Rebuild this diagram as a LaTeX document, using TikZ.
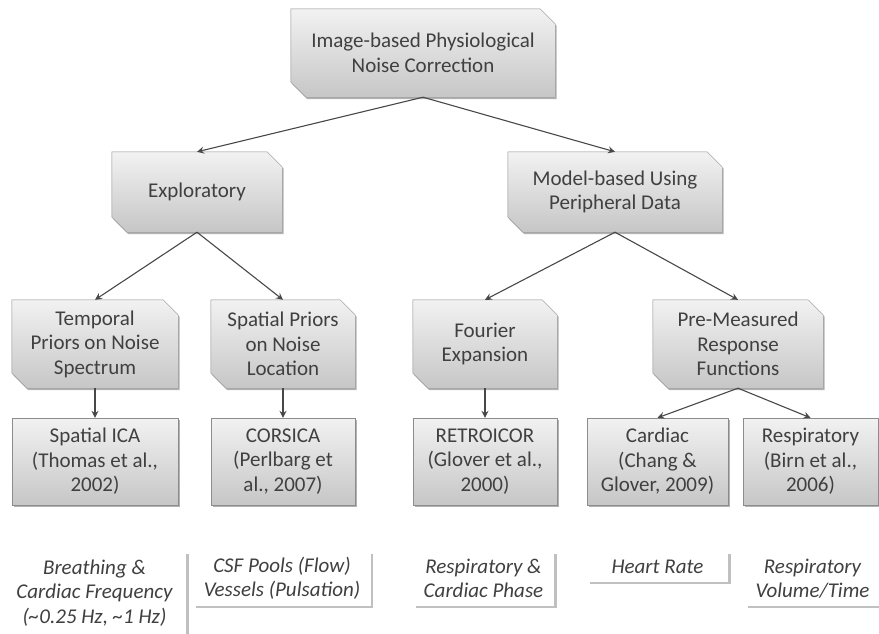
\documentclass[tikz,border=0pt]{standalone}
\usepackage{fontspec}
\setmainfont{Carlito}
\usetikzlibrary{shadows,arrows.meta,backgrounds}
\definecolor{PNText}{RGB}{64,64,64}
\definecolor{PNEdge}{RGB}{140,140,140}
\definecolor{PNLight}{RGB}{242,242,242}
\definecolor{PNDark}{RGB}{198,198,198}
\definecolor{PNArrow}{RGB}{72,72,72}

\begin{document}
\begin{tikzpicture}[x=1pt,y=-1pt,>={Stealth[length=7pt,width=7pt,inset=2.5pt]},
    every node/.style={text=PNText,font=\fontsize{21}{24.5}\selectfont,align=center,inner sep=0pt},
    graybox/.style={draw=PNEdge,top color=PNLight,bottom color=PNDark,
      drop shadow={shadow xshift=1.5pt,shadow yshift=-2pt,fill=black!60,opacity=.5}},
    snipbox/.style={rectangle},
    notebox/.style={fill=white,font=\fontsize{21}{24.5}\selectfont\itshape,
      drop shadow={shadow xshift=2.5pt,shadow yshift=-2.5pt,fill=black!55,opacity=.45}},
    arr/.style={->,PNArrow,line width=1.1pt}]
  \useasboundingbox (0,0) rectangle (879,633);
  % first two levels
  \node[snipbox,minimum width=264,minimum height=88] (top) at (423,53) {Image-based Physiological\\Noise Correction};
  \node[snipbox,minimum width=170,minimum height=80] (expl) at (197,192) {Exploratory};
  \node[snipbox,minimum width=214,minimum height=80] (model) at (615,192) {Model-based Using\\Peripheral Data};
  % priors / expansions
  \node[snipbox,minimum width=166,minimum height=88] (temp) at (95,344) {Temporal\\Priors on Noise\\Spectrum};
  \node[snipbox,minimum width=144,minimum height=88] (spat) at (283,344) {Spatial Priors\\on Noise\\Location};
  \node[snipbox,minimum width=144,minimum height=88] (four) at (485,344) {Fourier\\Expansion};
  \node[snipbox,minimum width=170,minimum height=88] (resp) at (738,344) {Pre-Measured\\Response\\Functions};
  % snipped corners behind the text
  \begin{scope}[on background layer]
    \foreach \b in {top,expl,model,temp,spat,four,resp}
      \path[graybox] (\b.north west) -- ([xshift=-15pt]\b.north east) -- ([yshift=-15pt]\b.north east)
        -- (\b.south east) -- ([xshift=15pt]\b.south west) -- ([yshift=15pt]\b.south west) -- cycle;
  \end{scope}
  % methods
  \node[graybox,minimum width=166,minimum height=87] (ica) at (95,461.5) {Spatial ICA\\(Thomas et al.,\\2002)};
  \node[graybox,minimum width=144,minimum height=87] (corsica) at (283,461.5) {CORSICA\\(Perlbarg et\\al., 2007)};
  \node[graybox,minimum width=144,minimum height=87] (retro) at (485,461.5) {RETROICOR\\(Glover et al.,\\2000)};
  \node[graybox,minimum width=141,minimum height=87] (card) at (657.5,461.5) {Cardiac\\(Chang \&\\Glover, 2009)};
  \node[graybox,minimum width=135,minimum height=87] (rvt) at (810.5,461.5) {Respiratory\\(Birn et al.,\\2006)};
  % notes
  \node[notebox,minimum width=183,minimum height=84] (n1) at (94.5,593) {Breathing \&\\Cardiac Frequency\\(\textasciitilde0.25 Hz, \textasciitilde1 Hz)};
  \node[notebox,minimum width=177,minimum height=54] (n2) at (282,578.5) {CSF Pools (Flow)\\Vessels (Pulsation)};
  \node[notebox,minimum width=141,minimum height=54] (n3) at (483.5,578.5) {Respiratory \&\\Cardiac Phase};
  \node[notebox,minimum width=141,minimum height=30] (n4) at (657.5,566.5) {Heart Rate};
  \node[notebox,minimum width=135,minimum height=54] (n5) at (812.5,578.5) {Respiratory\\Volume/Time};
  % arrows
  \draw[arr] (top.south) -- (expl.north);
  \draw[arr] (top.south) -- (model.north);
  \draw[arr] (expl.south) -- (temp.north);
  \draw[arr] (expl.south) -- (spat.north);
  \draw[arr] (model.south) -- (four.north);
  \draw[arr] (model.south) -- (resp.north);
  \draw[arr] (temp.south) -- (ica.north);
  \draw[arr] (spat.south) -- (corsica.north);
  \draw[arr] (four.south) -- (retro.north);
  \draw[arr] (resp.south) -- (card.north);
  \draw[arr] (resp.south) -- (rvt.north);
\end{tikzpicture}
\end{document}
